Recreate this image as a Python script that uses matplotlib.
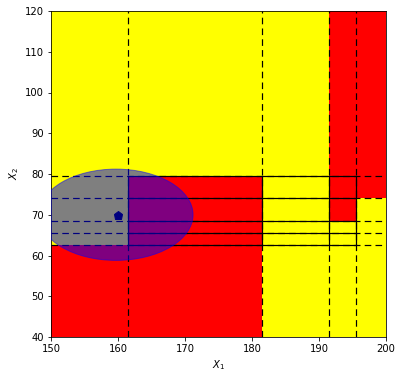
import numpy as np
import matplotlib
matplotlib.use("Agg")
import matplotlib.pyplot as plt
from matplotlib.colors import ListedColormap
from matplotlib.patches import Ellipse

# Split thresholds of the tree
x_splits = [161.5, 181.5, 191.5, 195.5]
y_splits = [62.5, 65.5, 68.5, 74.0, 79.5]
x_lim = [150, 200]
y_lim = [40, 120]

# Leaf classes (0 = yellow, 1 = red), rows bottom->top, cols left->right
leaf_classes = np.array([
    [1, 1, 0, 0, 0],
    [0, 1, 0, 0, 0],
    [0, 1, 0, 0, 0],
    [0, 1, 0, 1, 0],
    [0, 1, 0, 1, 1],
    [0, 0, 0, 1, 1],
])

point_x = [160]
point_y = [70]
ellipse_center = (159.7, 70.0)
ellipse_w = 23
ellipse_h = 22.4

fig = plt.figure(figsize=(402/72, 379/72), dpi=72)
ax = fig.add_axes([51/402, 42/379, 335/402, 326/379])

x_edges = [x_lim[0]] + x_splits + [x_lim[1]]
y_edges = [y_lim[0]] + y_splits + [y_lim[1]]
ax.pcolormesh(x_edges, y_edges, leaf_classes, cmap=ListedColormap(['yellow', 'red']),
              vmin=0, vmax=1, shading='flat', zorder=0)

for xv in x_splits:
    ax.axvline(xv, color='black', lw=1.2, ls=(0, (5.5, 3.5)), zorder=1)
for yv in y_splits:
    ax.axhline(yv, color='black', lw=1.2, ls=(0, (5.5, 3.5)), zorder=1)

ax.hlines(y_splits, x_splits[0], x_splits[-1], colors='black', lw=1.2, zorder=2)
ax.vlines(x_splits, y_splits[0], y_splits[-1], colors='black', lw=1.2, zorder=2)

ax.plot(point_x, point_y, 'p', color='black', ms=9, zorder=3)

ax.add_patch(Ellipse(ellipse_center, ellipse_w, ellipse_h, color='blue', alpha=0.5, zorder=4))

ax.set_xlim(x_lim)
ax.set_ylim(y_lim)
ax.set_xlabel('$X_1$', fontsize=10)
ax.set_ylabel('$X_2$', fontsize=10)
ax.tick_params(labelsize=10)

fig.savefig('out.png', dpi=72)
